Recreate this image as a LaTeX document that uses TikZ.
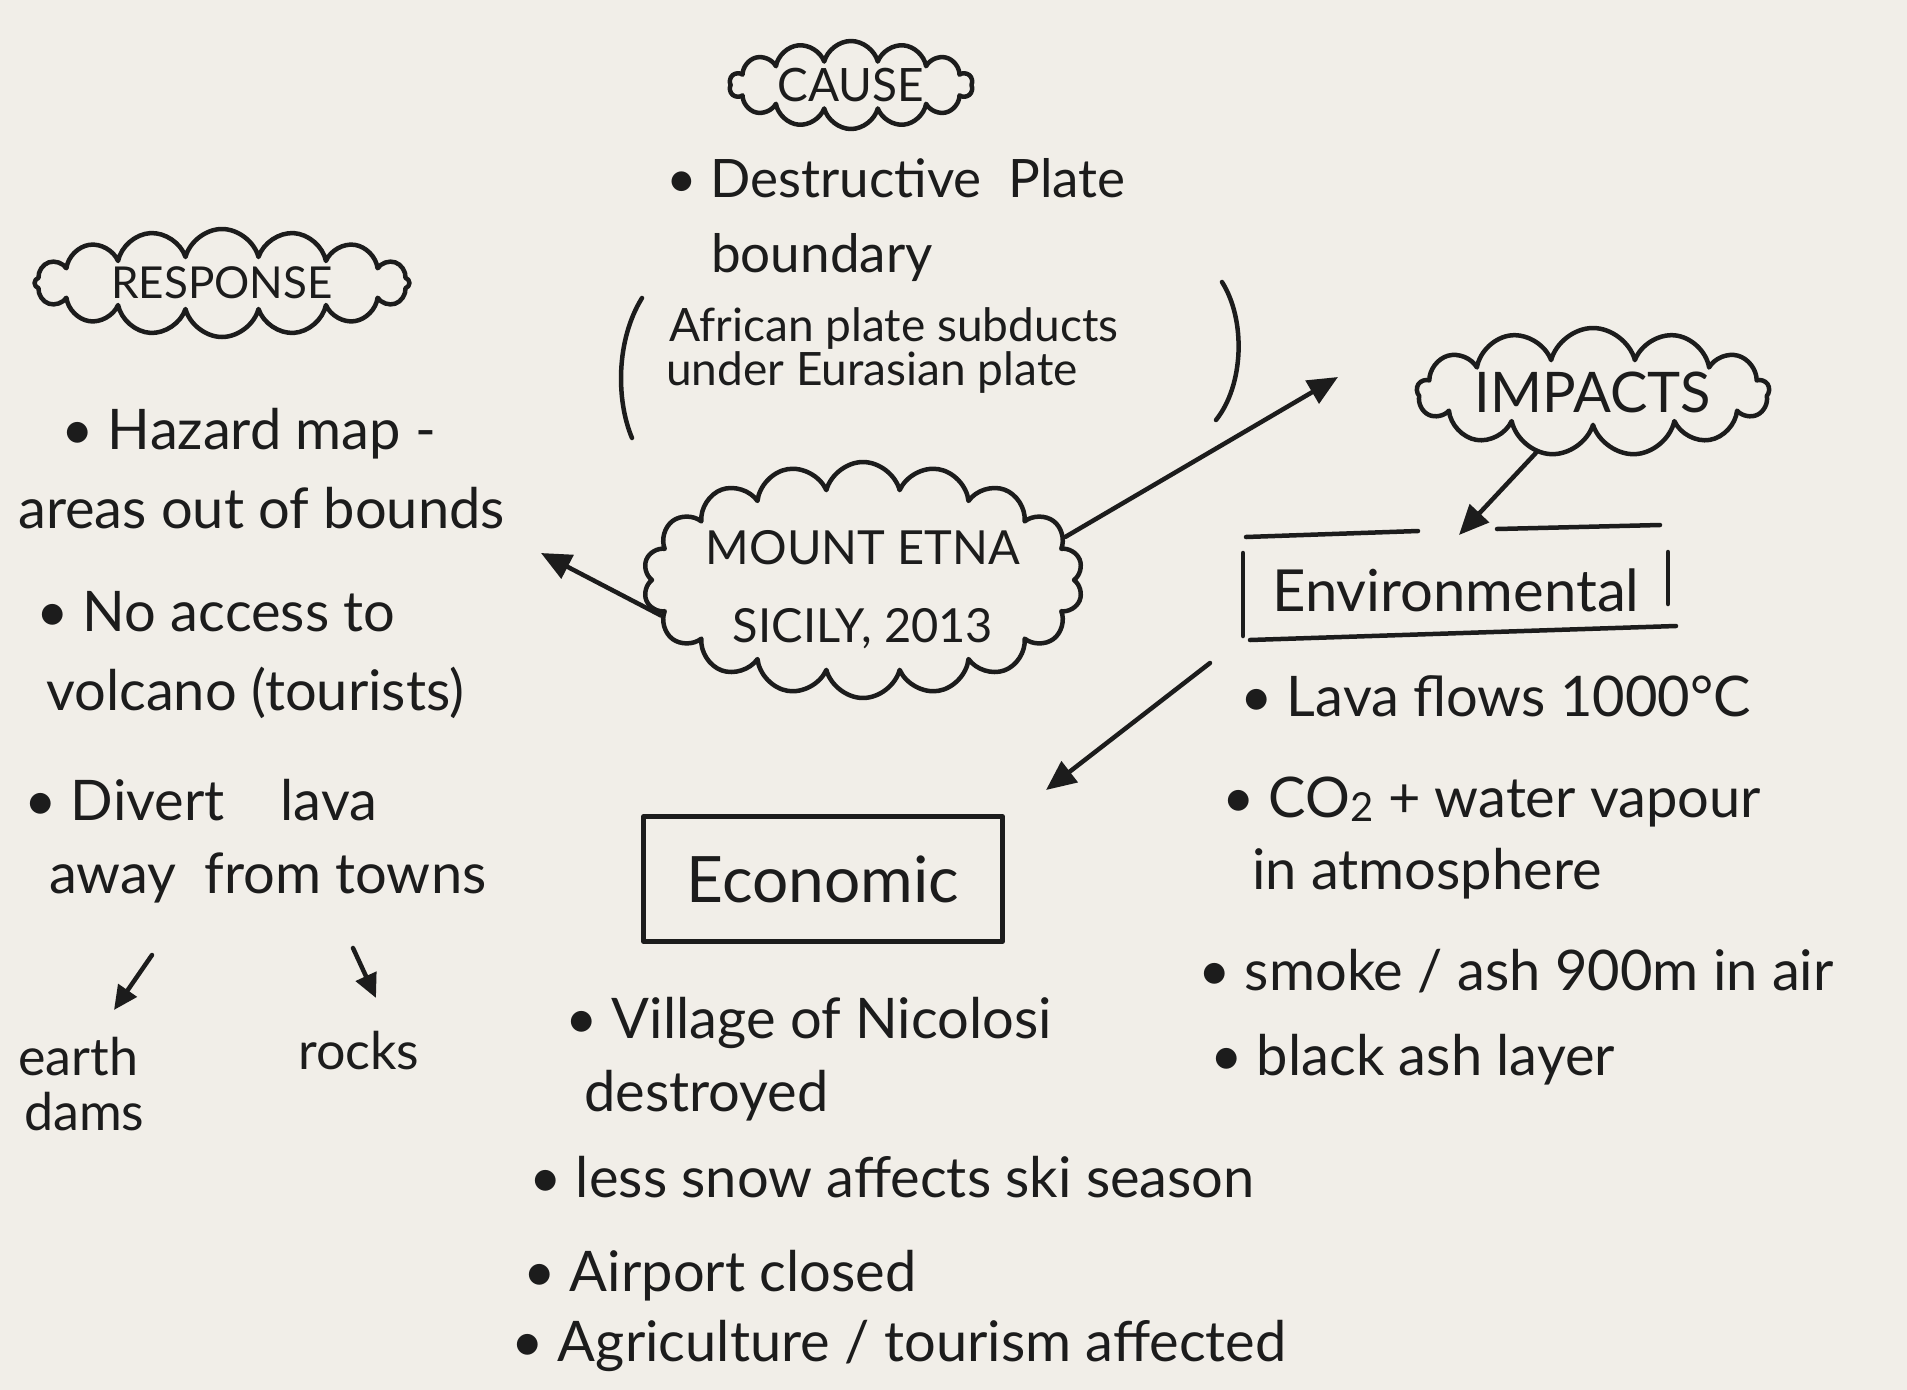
\documentclass[tikz,border=0pt]{standalone}
\usepackage{fontspec}
\setmainfont{Lato}
\usetikzlibrary{shapes.symbols,arrows.meta}
\definecolor{paper}{RGB}{241,238,232}
\definecolor{ink}{RGB}{28,28,28}
\begin{document}
\begin{tikzpicture}[x=1pt,y=-1pt,
  pen/.style={draw=ink,line width=4.5pt,line cap=round,line join=round},
  arr/.style={pen,-{Triangle[length=30pt,width=26pt]}},
  smallarr/.style={pen,-{Triangle[length=24pt,width=22pt]}},
  hand/.style={text=ink,inner sep=0pt,anchor=west,yshift=-15pt,font=\fontsize{56}{60}\selectfont,text height=0.72em,text depth=0.2em},
  bubble/.style={cloud,pen,cloud ignores aspect,inner sep=0pt},
  boxlabel/.style={text=ink,inner sep=0pt}
]
\fill[paper] (0,0) rectangle (1907,1390);
\useasboundingbox (0,0) rectangle (1907,1390);

% clouds
\node[bubble, cloud puffs=14, minimum width=243pt, minimum height=88pt,
  label={[text=ink,font=\fontsize{46}{50}\selectfont]center:CAUSE}] (cause) at (851,85) {};
\node[bubble, cloud puffs=16, minimum width=375pt, minimum height=108pt,
  label={[text=ink,font=\fontsize{44}{50}\selectfont]center:RESPONSE}] (response) at (222,283) {};
\node[bubble, cloud puffs=13, minimum width=352pt, minimum height=128pt,
  label={[text=ink,font=\fontsize{56}{60}\selectfont]center:IMPACTS}] (impacts) at (1593,392) {};
\node[bubble, cloud puffs=18, minimum width=440pt, minimum height=236pt,
  label={[text=ink,align=center,yshift=-10pt,font=\fontsize{47}{78}\selectfont]center:{MOUNT ETNA\\SICILY, 2013}}] (etna) at (863,580) {};

% cause text
\node[hand,font=\fontsize{53}{58}\selectfont] (c1) at (666,180) {• Destructive\enspace Plate};
\node[hand,font=\fontsize{53}{58}\selectfont] (c2) at (711,255) {boundary};
\node[hand,font=\fontsize{46}{50}\selectfont] (c3) at (669,324) {African plate subducts};
\node[hand,font=\fontsize{46}{50}\selectfont] (c4) at (666,368) {under Eurasian plate};
\draw[pen] (642,298) .. controls (616,340) and (616,400) .. (632,438);
\draw[pen] (1222,282) .. controls (1246,320) and (1244,385) .. (1216,420);

% response text
\node[hand] (r1) at (61,432) {• Hazard map -};
\node[hand] (r2) at (18,511) {areas out of bounds};
\node[hand] (r3) at (36,614) {• No access to};
\node[hand] (r4) at (46,693) {volcano (tourists)};
\node[hand] (r5) at (24,803) {• Divert\quad lava};
\node[hand] (r6) at (49,876) {away\enspace from towns};
\node[hand,font=\fontsize{52}{56}\selectfont] (earth) at (18,1058) {earth};
\node[hand,font=\fontsize{52}{56}\selectfont] (dams) at (24,1113) {dams};
\node[hand,font=\fontsize{52}{56}\selectfont] (rocks) at (298,1052) {rocks};
\coordinate (awayOut) at (152,955);
\coordinate (earthIn) at (114,1010);
\coordinate (townsOut) at (353,948);
\coordinate (rocksIn) at (376,998);
\draw[smallarr] (awayOut) -- (earthIn);
\draw[smallarr] (townsOut) -- (rocksIn);

% environmental box
\node[boxlabel,font=\fontsize{58}{62}\selectfont] (env) at (1456,590) {Environmental};
\draw[pen] (1246,537) -- (1418,531);
\draw[pen] (1497,529) -- (1660,525);
\draw[pen] (1243,553) -- (1243,636);
\draw[pen] (1668,552) -- (1668,604);
\draw[pen] (1250,640) -- (1676,626);

% economic box
\node[pen,boxlabel,font=\fontsize{64}{68}\selectfont,minimum width=359pt,minimum height=125pt] (econ) at (823,879) {Economic};

% environmental list
\node[hand] (e1) at (1240,699) {• Lava flows 1000°C};
\node[hand] (e2) at (1222,800) {• CO{\fontsize{40}{40}\selectfont\raisebox{-0.1em}{2}} + water vapour};
\node[hand] (e3) at (1252,872) {in atmosphere};
\node[hand] (e4) at (1198,973) {• smoke / ash 900m in air};
\node[hand] (e5) at (1210,1058) {• black ash layer};

% economic list
\node[hand] (k1) at (565,1021) {• Village of Nicolosi};
\node[hand] (k2) at (584,1094) {destroyed};
\node[hand] (k3) at (529,1180) {• less snow affects ski season};
\node[hand] (k4) at (523,1274) {• Airport closed};
\node[hand] (k5) at (511,1344) {• Agriculture / tourism affected};

% main arrows
\coordinate (respTip) at (541,553);
\coordinate (impTip) at (1338,377);
\coordinate (envTip) at (1459,535);
\coordinate (envOut) at (1210,663);
\coordinate (econTip) at (1046,790);
\draw[arr] (etna.190) -- (respTip);
\draw[arr] (etna.12) -- (impTip);
\draw[arr] (impacts) -- (envTip);
\draw[arr] (envOut) -- (econTip);
\end{tikzpicture}
\end{document}
